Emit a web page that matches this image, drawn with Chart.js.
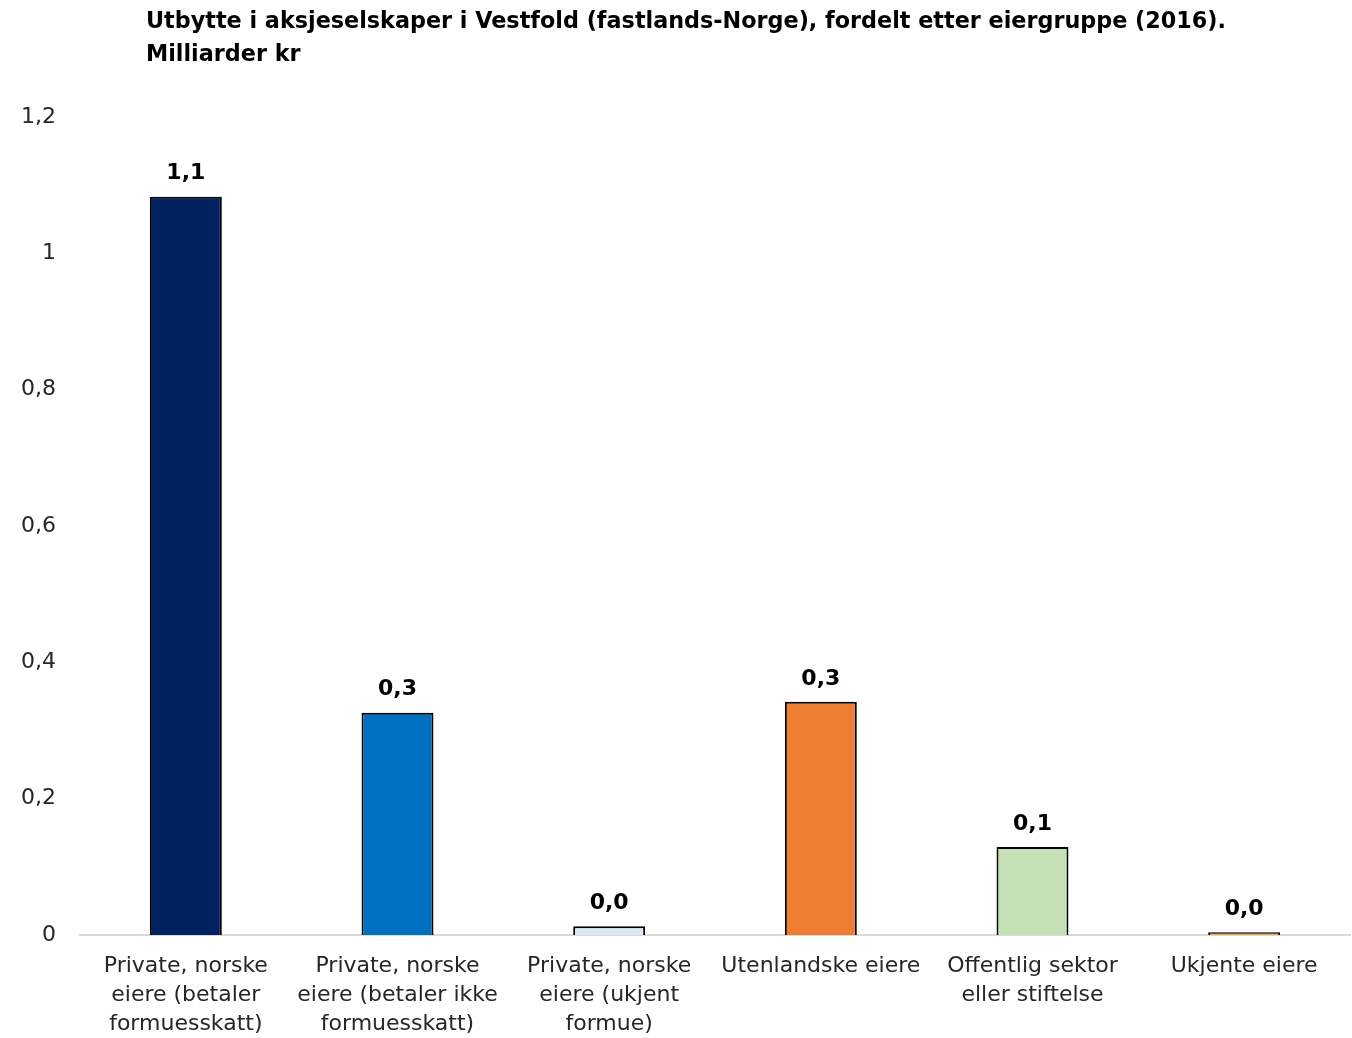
<!DOCTYPE html>
<html>
<head>
<meta charset="utf-8">
<script src="https://cdn.jsdelivr.net/npm/chart.js@4"></script>
<style>
    body { margin: 0; background: #fff; }
    #wrap { position: relative; width: 1352px; height: 1038px; }
    #title {
        position: absolute; left: 146px; top: 4px;
        font: bold 22.3px "DejaVu Sans", sans-serif;
        line-height: 33px; color: #000;
    }
</style>
</head>
<body>
<div id="wrap">
    <canvas id="dividendChart" width="1352" height="1038"></canvas>
    <div id="title">Utbytte i aksjeselskaper i Vestfold (fastlands-Norge), fordelt etter eiergruppe (2016).<br>Milliarder kr</div>
</div>
<script>
const categories = [
    ['Private, norske', 'eiere (betaler', 'formuesskatt)'],
    ['Private, norske', 'eiere (betaler ikke', 'formuesskatt)'],
    ['Private, norske', 'eiere (ukjent', 'formue)'],
    ['Utenlandske eiere'],
    ['Offentlig sektor', 'eller stiftelse'],
    ['Ukjente eiere']
];
const values = [1.083, 0.326, 0.013, 0.342, 0.129, 0.004];
const barColors = ['#002060', '#0070C0', '#DCE6F2', '#ED7D31', '#C5E0B4', '#E2AC3F'];

function comma(v, digits) {
    return (digits === undefined ? String(Math.round(v * 10) / 10) : v.toFixed(digits)).replace('.', ',');
}

// draw value on top of each bar
const valueLabels = {
    id: 'valueLabels',
    afterDatasetsDraw(chart) {
        const ctx = chart.ctx;
        const meta = chart.getDatasetMeta(0);
        ctx.save();
        ctx.font = 'bold 22px "DejaVu Sans", sans-serif';
        ctx.fillStyle = '#000';
        ctx.textAlign = 'center';
        ctx.textBaseline = 'bottom';
        meta.data.forEach((bar, i) => {
            ctx.fillText(comma(values[i], 1), bar.x, bar.y - 12);
        });
        ctx.restore();
    }
};

const ctx = document.getElementById('dividendChart').getContext('2d');
new Chart(ctx, {
    type: 'bar',
    data: {
        labels: categories,
        datasets: [{
            data: values,
            backgroundColor: barColors,
            borderColor: '#000',
            borderWidth: 2,
            barPercentage: 0.34,
            categoryPercentage: 1
        }]
    },
    options: {
        responsive: false,
        animation: false,
        layout: { padding: { top: 117, right: 2, left: 0, bottom: 0 } },
        plugins: {
            legend: { display: false },
            tooltip: { enabled: false }
        },
        scales: {
            x: {
                grid: { display: false, drawTicks: false },
                border: { display: true, color: '#d9d9d9', width: 2 },
                afterFit: (axis) => { axis.height = 103; },
                ticks: {
                    color: '#262626',
                    font: { family: '"DejaVu Sans", sans-serif', size: 22, lineHeight: 1.32 },
                    padding: 17,
                    maxRotation: 0,
                    autoSkip: false
                }
            },
            y: {
                min: 0,
                max: 1.2,
                grid: { display: false, drawTicks: false },
                border: { display: false },
                afterFit: (axis) => { axis.width = 80; },
                ticks: {
                    stepSize: 0.2,
                    color: '#262626',
                    font: { family: '"DejaVu Sans", sans-serif', size: 22 },
                    padding: 24,
                    callback: (v) => comma(v)
                }
            }
        }
    },
    plugins: [valueLabels]
});
</script>
</body>
</html>
